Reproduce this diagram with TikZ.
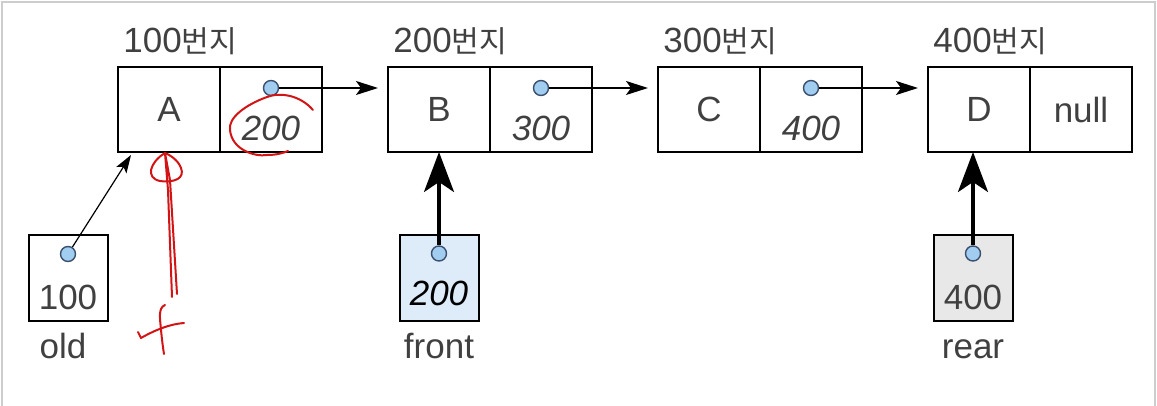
\documentclass[tikz,border=0pt]{standalone}
\usepackage{fontspec}
\setmainfont{Liberation Sans}
\newfontfamily\kr{Noto Sans CJK KR}[Scale=0.86]
\usepackage{tikz}
\usetikzlibrary{arrows.meta, positioning, calc}
\definecolor{txtgray}   {RGB}{ 64,  64,  64}
\definecolor{dotblue}   {RGB}{160, 205, 240}
\definecolor{dotline}   {RGB}{ 60,  80, 110}
\definecolor{frontblue} {RGB}{222, 236, 250}
\definecolor{reargray}  {RGB}{232, 232, 232}
\definecolor{penred}    {RGB}{210,  20,  20}
\definecolor{framegray} {RGB}{205, 205, 205}

\tikzset{
	cell/.style={draw, line width=1pt, minimum width=51pt, minimum height=42.5pt,
		inner sep=0pt, outer sep=0pt, text=txtgray, font=\fontsize{17.5}{20}\selectfont},
	varbox/.style={draw, line width=1pt, minimum width=39.5pt, minimum height=43pt,
		inner sep=0pt, outer sep=0pt},
	dot/.style={circle, draw=dotline, fill=dotblue, line width=0.7pt,
		minimum size=7.5pt, inner sep=0pt},
	lbl/.style={text=txtgray, font=\fontsize{17.5}{20}\selectfont, inner sep=0pt},
	link/.style={-{Stealth[length=11pt,width=7pt,inset=2.5pt]}, line width=0.8pt},
	thinlink/.style={-{Stealth[length=9pt,width=6pt,inset=2pt]}, line width=0.6pt},
	bigptr/.style={-{Stealth[length=20pt,width=15pt,inset=5pt]}, line width=1.6pt},
	pen/.style={penred, line width=1pt, line cap=round, line join=round}
}

\begin{document}
\begin{tikzpicture}[x=0.5pt,y=-0.5pt]
	\useasboundingbox (0,0) rectangle (1157,406);
	\draw[framegray, line width=0.8pt] (2,406) -- (2,2) -- (1155,2) -- (1155,406);

	\node[cell] (d1) at (169,109.5) {A};
	\node[cell, right=0pt of d1] (p1) {};
	\node[cell, right=33pt of p1] (d2) {B};
	\node[cell, right=0pt of d2] (p2) {};
	\node[cell, right=33pt of p2] (d3) {C};
	\node[cell, right=0pt of d3] (p3) {};
	\node[cell, right=33pt of p3] (d4) {D};
	\node[cell, right=0pt of d4] (p4) {null};

	\foreach \n/\a in {1/100,2/200,3/300,4/400}
		\node[lbl, anchor=base west] (addr\n) at ($(d\n.north west)+(5,-14)$) {\a{\kr 번지}};

	\foreach \n/\v in {1/200,2/300,3/400}{
		\node[dot] (q\n) at ($(p\n.north)+(0,21)$) {};
		\node[lbl] (v\n) at ($(p\n.south)+(0,-24)$) {\textit{\v}};
	}
	\foreach \n/\m in {1/2,2/3,3/4}
		\draw[link, shorten >=5pt] (q\n) -- (d\m.west |- q\n);

	\node[varbox] (old) at (68,278) {};
	\node[varbox, fill=frontblue] (front) at (439,278.5) {};
	\node[varbox, fill=reargray] (rear) at (973,278.5) {};
	\node[dot] (odot) at ($(old.north)+(0,19)$) {};
	\node[dot] (fdot) at ($(front.north)+(0,18)$) {};
	\node[dot] (rdot) at ($(rear.north)+(0,18)$) {};
	\node[lbl] (oval) at ($(old.south)+(0,-24)$) {100};
	\node[lbl, text=black] (fval) at ($(front.south)+(0,-28)$) {\textit{200}};
	\node[lbl] (rval) at ($(rear.south)+(0,-24)$) {400};
	\node[lbl, anchor=base] (oldname) at ($(old.south)+(-5,37)$) {old};
	\node[lbl, anchor=base] (frontname) at ($(front.south)+(0,37)$) {front};
	\node[lbl, anchor=base] (rearname) at ($(rear.south)+(0,37)$) {rear};

	\coordinate (oldtip) at ($(d1.south west)+(13,3)$);
	\draw[thinlink] (odot) -- (oldtip);
	\draw[bigptr] (fdot) -- (d2.south -| fdot);
	\draw[bigptr] (rdot) -- (d4.south -| rdot);

	\draw[pen] (313,110) .. controls (300,95) and (280,92) .. (267,97)
		.. controls (245,105) and (228,118) .. (230,130)
		.. controls (232,150) and (255,157) .. (267,155)
		.. controls (277,155) and (283,153) .. (288,151);
	\draw[pen] (172,297) -- (168,190) -- (165,153)
		.. controls (150,162) and (145,178) .. (160,181)
		.. controls (175,183) and (185,178) .. (181,168)
		.. controls (178,160) and (170,155) .. (165,153) -- (170,180) -- (177,294);
	\draw[pen] (165,305) .. controls (158,308) and (160,318) .. (161,330)
		.. controls (162,340) and (163,348) .. (164,354);
	\draw[pen] (138,332) -- (141,338) .. controls (155,330) and (170,324) .. (184,323);
\end{tikzpicture}
\end{document}
